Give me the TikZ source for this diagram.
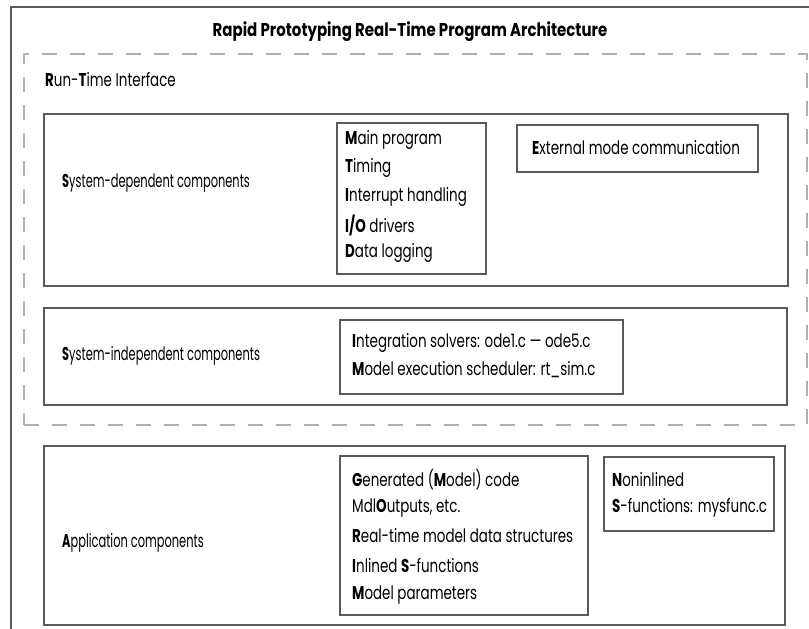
\documentclass[tikz,border=0pt]{standalone}
\usepackage{fontspec}
\setmainfont{Poppins}[FakeStretch=0.617]
\newfontfamily\itemfont{Poppins}[FakeStretch=0.727]
\newfontfamily\titlefont{Poppins}[FakeStretch=0.81]
\definecolor{boxgray}{HTML}{5A5A5A}
\definecolor{dashgray}{HTML}{B0B0B0}
\begin{document}
\begin{tikzpicture}[x=1pt,y=-1pt,
  framebox/.style={draw=boxgray, line width=2pt, rectangle, inner sep=0pt, anchor=north west},
  dashbox/.style={draw=dashgray, line width=2pt, dash pattern=on 15pt off 13pt, rectangle, inner sep=0pt, anchor=north west},
  lbl/.style={anchor=west, inner sep=0pt, text=black, font=\fontsize{18.5}{22}\selectfont},
  itm/.style={anchor=west, inner sep=0pt, text=black, font=\itemfont\fontsize{18.5}{22}\selectfont},
  ttl/.style={anchor=center, inner sep=0pt, text=black, font=\titlefont\bfseries\fontsize{18.5}{22}\selectfont}]
\useasboundingbox (0,0) rectangle (809,629);
\clip (0,0) rectangle (809,629);
\fill[white] (0,0) rectangle (809,629);
% outer frame
\node[framebox, minimum width=820pt, minimum height=640pt] (outer) at (10,6) {};
\node[ttl] (title) at (410,32) {Rapid Prototyping Real-Time Program Architecture};
% run-time interface dashed box
\node[dashbox, minimum width=783pt, minimum height=371pt] (rti) at (23,53) {};
\node[itm] (rtilbl) at (45,80) {\textbf{R}un-\textbf{T}ime Interface};
% system-dependent
\node[framebox, minimum width=744pt, minimum height=172pt] (sysdep) at (43,113) {};
\node[lbl] (sysdeplbl) at (62,183) {\textbf{S}ystem-dependent components};
\node[framebox, minimum width=149pt, minimum height=151pt] (mainbox) at (336,122) {};
\node[itm] (l1) at (345,140) {\textbf{M}ain program};
\node[itm] (l2) at (345,168) {\textbf{T}iming};
\node[itm] (l3) at (345,197) {\textbf{I}nterrupt handling};
\node[itm] (l4) at (345,225) {\textbf{I/O} drivers};
\node[itm] (l5) at (345,253) {\textbf{D}ata logging};
\node[framebox, minimum width=241pt, minimum height=47pt] (extbox) at (516,124) {};
\node[itm] (ext) at (532,148) {\textbf{E}xternal mode communication};
% system-independent
\node[framebox, minimum width=743pt, minimum height=97pt] (sysind) at (43,307) {};
\node[lbl] (sysindlbl) at (62,356) {\textbf{S}ystem-independent components};
\node[framebox, minimum width=283pt, minimum height=74pt] (intbox) at (339,319) {};
\node[itm] (i1) at (352,343) {\textbf{I}ntegration solvers: ode1.c — ode5.c};
\node[itm] (i2) at (352,370) {\textbf{M}odel execution scheduler: rt\_sim.c};
% application
\node[framebox, minimum width=741pt, minimum height=179pt] (app) at (43,445) {};
\node[lbl] (applbl) at (62,543) {\textbf{A}pplication components};
\node[framebox, minimum width=248pt, minimum height=159pt] (genbox) at (339,455) {};
\node[itm] (g1) at (352,480) {\textbf{G}enerated (\textbf{M}odel) code};
\node[itm] (g2) at (352,508) {Mdl\textbf{O}utputs, etc.};
\node[itm] (g3) at (352,536) {\textbf{R}eal-time model data structures};
\node[itm] (g4) at (352,566) {\textbf{I}nlined \textbf{S}-functions};
\node[itm] (g5) at (352,595) {\textbf{M}odel parameters};
\node[framebox, minimum width=170pt, minimum height=74pt] (nonbox) at (603,456) {};
\node[itm] (n1) at (612,480) {\textbf{N}oninlined};
\node[itm] (n2) at (612,508) {\textbf{S}-functions: mysfunc.c};
\end{tikzpicture}
\end{document}
